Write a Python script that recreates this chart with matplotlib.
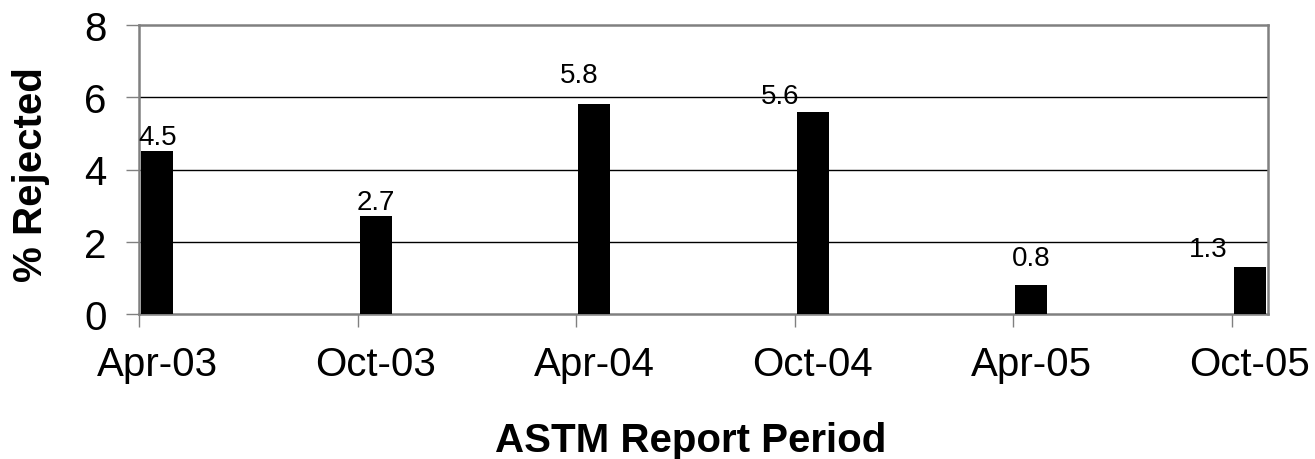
import matplotlib
matplotlib.use("Agg")
import matplotlib.pyplot as plt
from datetime import datetime

# ---- data ----
periods = ["Apr-03", "Oct-03", "Apr-04", "Oct-04", "Apr-05", "Oct-05"]
pct_rejected = [4.5, 2.7, 5.8, 5.6, 0.8, 1.3]
y_ticks = [0, 2, 4, 6, 8]

# manual label nudges (pixels) as seen in the reference
label_dx_px = [0, 0, -15, -33, 0, -42]
label_gap_px = [7, 7, 22, 9, 20, 11]

plt.rcParams['font.family'] = ['Liberation Sans', 'DejaVu Sans']

# month index of each period relative to the first
dates = [datetime.strptime(p, "%b-%y") for p in periods]
months = [(d.year - dates[0].year) * 12 + d.month - dates[0].month for d in dates]

W, H, DPI = 1315, 460, 100
fig = plt.figure(figsize=(W / DPI, H / DPI), dpi=DPI)
ax = fig.add_axes([139 / W, 1 - 315 / H, (1268 - 139) / W, (315 - 26) / H])

centers = [m + 0.5 for m in months]
ax.bar(centers, pct_rejected, width=0.88, color='black', zorder=3)

ax.set_xlim(0, months[-1] + 1)
ax.set_ylim(0, 8)
ax.set_yticks(y_ticks)
ax.set_yticklabels([str(t) for t in y_ticks])

ax.set_xticks(months)
ax.set_xticklabels([])
ax.set_xticks(centers, minor=True)
ax.set_xticklabels(periods, minor=True)

grid_col = '#808080'
ax.tick_params(axis='x', which='major', length=9.4, width=1, color=grid_col, direction='out')
ax.tick_params(axis='x', which='minor', length=0, pad=22, labelsize=29)
ax.tick_params(axis='y', length=9.4, width=1, color=grid_col, pad=14, labelsize=29)

for y in y_ticks[1:-1]:
    ax.axhline(y, color='black', lw=1, zorder=1)
for s in ax.spines.values():
    s.set_color(grid_col)
    s.set_linewidth(1.8)

px = 72 / DPI
for c, v, dx, gap in zip(centers, pct_rejected, label_dx_px, label_gap_px):
    ax.annotate(f"{v}", xy=(c, v), xytext=(dx * px, gap * px),
                textcoords='offset points', ha='center', va='baseline',
                fontsize=20, zorder=4, annotation_clip=False)

fig.text(691 / W, 1 - 452 / H, "ASTM Report Period", ha='center', va='baseline',
         fontsize=29, fontweight='bold')
fig.text(42 / W, 1 - 175 / H, "% Rejected", rotation=90, rotation_mode='anchor',
         ha='center', va='baseline', fontsize=29, fontweight='bold')

fig.savefig("out.png", dpi=DPI)
